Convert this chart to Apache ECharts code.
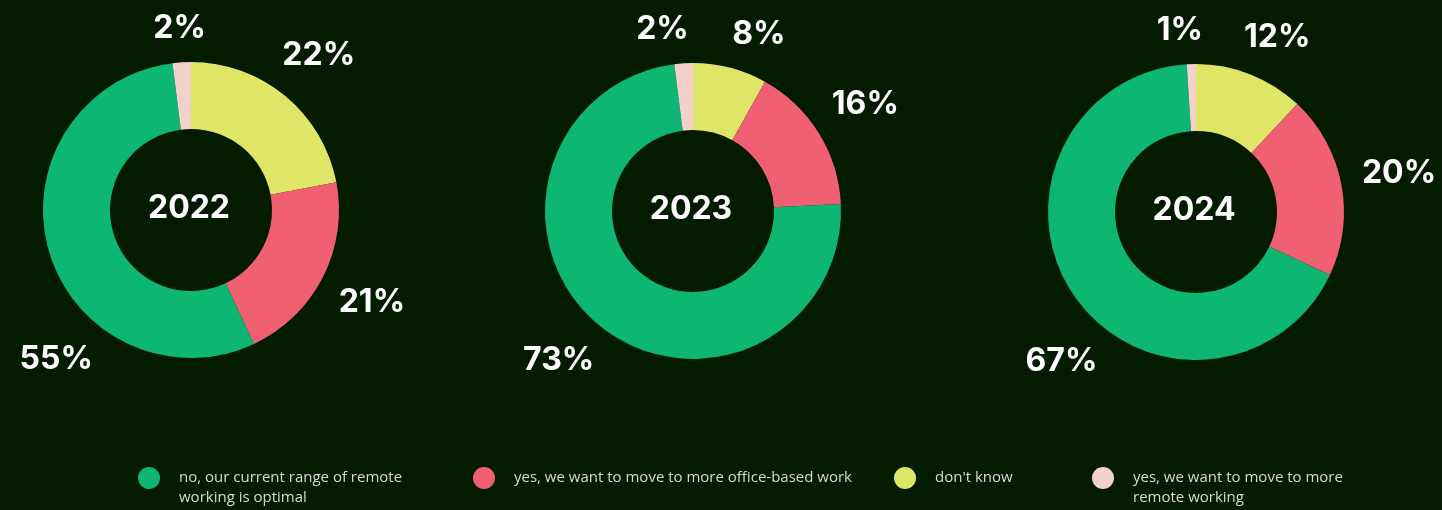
<!DOCTYPE html>
<html>
<head>
<meta charset="utf-8">
<script src="https://cdn.jsdelivr.net/npm/echarts@6/dist/echarts.min.js"></script>
<style>
  html, body { margin: 0; padding: 0; background: #031c00; }
  #chart { width: 1442px; height: 510px; }
</style>
</head>
<body>
<div id="chart"></div>
<script>
// Survey answers, listed in the clockwise order of the slices (from 12 o'clock)
const answers = [
  "don't know",
  'yes, we want to move to more office-based work',
  'no, our current range of remote working is optimal',
  'yes, we want to move to more remote working'
];
// Order of the legend entries
const legendOrder = [answers[2], answers[1], answers[0], answers[3]];

const years = ['2022', '2023', '2024'];
// Share of respondents (%) per answer, same order as `answers`
const share2022 = [22, 21, 55, 2];
const share2023 = [8, 16, 73, 2];
const share2024 = [12, 20, 67, 1];
const sharesByYear = [share2022, share2023, share2024];

// ---- presentation ----
const BG = '#031c00';
const SLICE_COLORS = ['#dfe667', '#f06072', '#0db673', '#f2d1cc'];
const CENTERS = [[191, 210], [693, 211], [1196, 212]];
const OUTER_R = 148;
const INNER_R = 81;
const LABEL_R = 168;          // distance from centre to the near edge of a value label
const CAP_HALF = 12;          // half of the visible digit height
const MAIN_INDEX = 2;         // the dominant answer gets its label at a fixed bearing
const MAIN_LABEL_ANGLE = 222; // degrees, clockwise from 12 o'clock
const MIN_LABEL_SEP = 30;     // minimum bearing gap between neighbouring small labels
const BIG_FONT = 'Inter, "Noto Sans", sans-serif';
const SMALL_FONT = '"Open Sans", "Noto Sans", sans-serif';

// Bearing (deg, clockwise from top) of each value label, spread apart when crowded
function labelBearings(values) {
  const total = values.reduce((s, v) => s + v, 0);
  let acc = 0;
  const ang = values.map(v => { const m = (acc + v / 2) / total * 360; acc += v; return m; });
  ang[MAIN_INDEX] = MAIN_LABEL_ANGLE;
  const idx = values.map((_, k) => k).filter(k => k !== MAIN_INDEX);
  for (let it = 0; it < 20; it++) {
    const order = idx.slice().sort((a, b) => ang[a] - ang[b]);
    for (let j = 0; j < order.length; j++) {
      const a = order[j], b = order[(j + 1) % order.length];
      let sep = ang[b] - ang[a];
      if (sep < 0) sep += 360;
      if (sep < MIN_LABEL_SEP) {
        const push = (MIN_LABEL_SEP - sep) / 2;
        ang[a] = (ang[a] - push + 360) % 360;
        ang[b] = (ang[b] + push) % 360;
      }
    }
  }
  return ang;
}

function labelPlacer(seriesIdx) {
  const cx = CENTERS[seriesIdx][0], cy = CENTERS[seriesIdx][1];
  const bearings = labelBearings(sharesByYear[seriesIdx]);
  return function (p) {
    const r = p.labelRect;
    const a = bearings[p.dataIndex] * Math.PI / 180;
    const ux = Math.sin(a), uy = -Math.cos(a);
    const dist = LABEL_R + Math.abs(ux) * r.width / 2 + Math.abs(uy) * CAP_HALF;
    return { x: cx + ux * dist, y: cy + uy * dist, align: 'center', verticalAlign: 'middle' };
  };
}

const series = years.map((yr, i) => ({
  name: yr,
  type: 'pie',
  center: CENTERS[i],
  radius: [INNER_R, OUTER_R],
  startAngle: 90,
  clockwise: true,
  avoidLabelOverlap: false,
  silent: true,
  color: SLICE_COLORS,
  itemStyle: { borderWidth: 0 },
  label: {
    show: true,
    position: 'inside',
    formatter: '{c}%',
    color: '#ffffff',
    fontFamily: BIG_FONT,
    fontWeight: 700,
    fontSize: 32
  },
  labelLine: { show: false },
  labelLayout: labelPlacer(i),
  emphasis: { disabled: true },
  data: answers.map((a, k) => ({ name: a, value: sharesByYear[i][k] }))
}));

const titles = years.map((yr, i) => ({
  text: yr,
  left: CENTERS[i][0] - 2,
  top: CENTERS[i][1] - 2,
  textAlign: 'center',
  textVerticalAlign: 'middle',
  padding: 0,
  textStyle: { color: '#ffffff', fontFamily: BIG_FONT, fontWeight: 700, fontSize: 32 }
}));

// one legend block per answer so each can sit in its own column
const LEGEND_LEFT = [138, 473, 894, 1092];
const LEGEND_TEXT_W = [240, 420, 200, 240];
const TWO_LINE = [true, false, false, true];
const legends = legendOrder.map((name, k) => ({
  data: [name],
  left: LEGEND_LEFT[k],
  top: TWO_LINE[k] ? 448 : 467,
  padding: 0,
  icon: 'circle',
  itemWidth: 50,
  itemHeight: 22,
  selectedMode: false,
  // wrapped entries start with an empty line so their first line sits level with the dot
  formatter: TWO_LINE[k] ? (n => '\n' + n) : (n => n),
  textStyle: {
    color: '#d6dad2',
    fontFamily: SMALL_FONT,
    fontSize: 15,
    lineHeight: 20,
    width: LEGEND_TEXT_W[k],
    overflow: 'break'
  }
}));

const chart = echarts.init(document.getElementById('chart'), null, { renderer: 'canvas' });
chart.setOption({
  backgroundColor: BG,
  animation: false,
  title: titles,
  legend: legends,
  series: series
});
</script>
</body>
</html>
